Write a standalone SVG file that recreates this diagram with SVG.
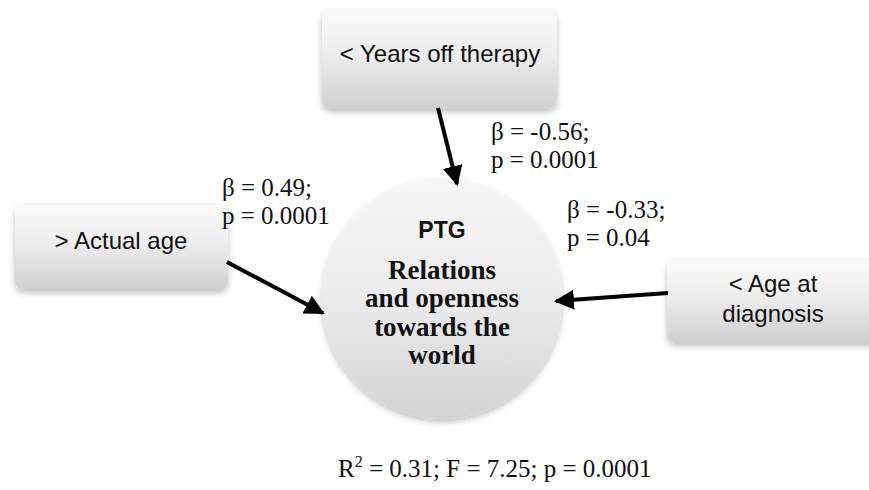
<svg xmlns="http://www.w3.org/2000/svg" width="869" height="490" viewBox="0 0 869 490">
  <defs>
    <linearGradient id="boxGrad" x1="0" y1="0" x2="0" y2="1">
      <stop offset="0" stop-color="#fbfbfb"/>
      <stop offset="0.45" stop-color="#ededed"/>
      <stop offset="1" stop-color="#cfcfcf"/>
    </linearGradient>
    <linearGradient id="circGrad" x1="0" y1="0" x2="0" y2="1">
      <stop offset="0" stop-color="#f7f7f7"/>
      <stop offset="0.5" stop-color="#ebebeb"/>
      <stop offset="1" stop-color="#d3d3d3"/>
    </linearGradient>
    <filter id="shadow" x="-10%" y="-10%" width="120%" height="130%">
      <feDropShadow dx="0" dy="3" stdDeviation="3" flood-color="#000" flood-opacity="0.25"/>
    </filter>
    <marker id="arrow" viewBox="0 0 10 10" refX="9" refY="5" markerWidth="5" markerHeight="5" orient="auto" markerUnits="strokeWidth">
      <path d="M0,0 L10,5 L0,10 z" fill="#000"/>
    </marker>
  </defs>
  <style>
    .box { fill: url(#boxGrad); filter: url(#shadow); }
    .boxtext { font-family: "Liberation Sans", Arial, sans-serif; font-size: 24px; fill: #111; text-anchor: middle; }
    .stat { font-family: "Liberation Serif", "Times New Roman", serif; font-size: 25px; fill: #111; }
    .ctext { font-family: "Liberation Serif", "Times New Roman", serif; font-size: 27px; font-weight: bold; fill: #111; text-anchor: middle; }
    .ptg { font-family: "Liberation Sans", Arial, sans-serif; font-size: 23px; font-weight: bold; fill: #111; text-anchor: middle; }
    .conn { stroke: #000; stroke-width: 4; fill: none; marker-end: url(#arrow); }
  </style>
  <rect width="869" height="490" fill="#fff"/>

  <g id="node-years">
    <rect class="box" x="322" y="10" width="235" height="99" rx="9"/>
    <text class="boxtext" x="440" y="62">&lt; Years off therapy</text>
  </g>

  <g id="node-actual-age">
    <rect class="box" x="15" y="205" width="213" height="85" rx="9"/>
    <text class="boxtext" x="121" y="249">&gt; Actual age</text>
  </g>

  <g id="node-age-diagnosis">
    <rect class="box" x="667" y="260" width="213" height="83" rx="9"/>
    <text class="boxtext" x="773" y="292">&lt; Age at</text>
    <text class="boxtext" x="773" y="322">diagnosis</text>
  </g>

  <g id="node-ptg">
    <circle cx="442" cy="299" r="120" fill="url(#circGrad)" filter="url(#shadow)"/>
    <text class="ptg" x="442" y="238">PTG</text>
    <text class="ctext" x="442" y="279">Relations</text>
    <text class="ctext" x="442" y="307">and openness</text>
    <text class="ctext" x="442" y="336">towards the</text>
    <text class="ctext" x="442" y="364">world</text>
  </g>

  <g id="connectors">
    <line class="conn" x1="438" y1="108" x2="457" y2="184"/>
    <line class="conn" x1="227" y1="262" x2="323" y2="313"/>
    <line class="conn" x1="668" y1="293" x2="556" y2="301"/>
  </g>

  <g id="labels">
    <text class="stat" x="491" y="140">β = -0.56;</text>
    <text class="stat" x="491" y="168">p = 0.0001</text>
    <text class="stat" x="222" y="196">β = 0.49;</text>
    <text class="stat" x="222" y="224">p = 0.0001</text>
    <text class="stat" x="567" y="218">β = -0.33;</text>
    <text class="stat" x="567" y="246">p = 0.04</text>
    <text class="stat" x="338" y="477">R<tspan dy="-10" font-size="16">2</tspan><tspan dy="10"> = 0.31; F = 7.25; p = 0.0001</tspan></text>
  </g>
</svg>
